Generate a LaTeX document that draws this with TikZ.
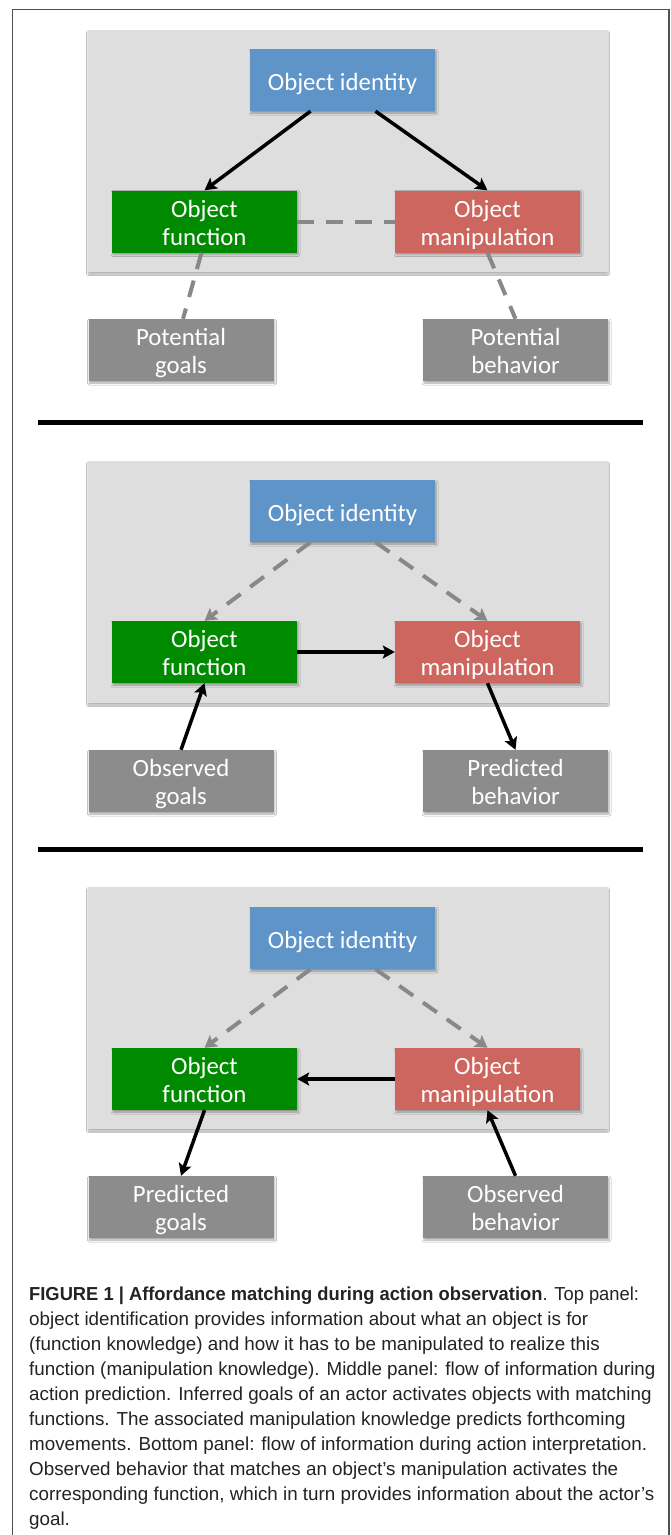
\documentclass[tikz,border=0pt]{standalone}
\usepackage{fontspec}
\setmainfont{Liberation Sans}
\newfontfamily\boxfont{Carlito}
\usetikzlibrary{arrows.meta,shadows.blur}
\definecolor{cblue}{RGB}{95,148,201}
\definecolor{cgreen}{RGB}{0,138,0}
\definecolor{cred}{RGB}{205,102,94}
\definecolor{cgraybox}{RGB}{140,140,140}
\definecolor{cpanel}{RGB}{222,222,222}
\definecolor{cdash}{RGB}{136,136,136}
\definecolor{cframe}{RGB}{80,80,80}
\definecolor{ctext}{RGB}{35,35,35}
% one-line and two-line box labels with fixed baseline placement
\newcommand\oneln[1]{\raisebox{0pt}[21.4pt][0pt]{#1}}
\newcommand\twoln[2]{\raisebox{0pt}[47pt][0pt]{\begin{tabular}[b]{@{}c@{}}#1\\#2\end{tabular}}}
\tikzset{
  box/.style={rectangle, inner sep=0pt, minimum width=185pt, minimum height=62pt,
    align=center, text=white, font=\boxfont\fontsize{24.8}{28}\selectfont,
    blur shadow={shadow xshift=1pt, shadow yshift=-2pt, shadow blur radius=2pt, shadow opacity=35}},
  idbox/.style={box, fill=cblue},
  fnbox/.style={box, fill=cgreen},
  mpbox/.style={box, fill=cred},
  gbox/.style={box, fill=cgraybox},
  panelbg/.style={rectangle, inner sep=0pt, fill=cpanel, minimum width=520pt, minimum height=242pt,
    blur shadow={shadow xshift=0pt, shadow yshift=-2pt, shadow blur radius=1.5pt, shadow opacity=30}},
  solidarrow/.style={draw=black, line width=3.5pt, -{Stealth[length=12pt,width=13pt,inset=2.5pt]}},
  dasharrow/.style={draw=cdash, line width=4pt, dash pattern=on 17pt off 12pt, -{Stealth[length=12pt,width=14pt,inset=2.5pt]}},
  dashline/.style={draw=cdash, line width=4pt, dash pattern=on 17pt off 12pt},
  capline/.style={anchor=base west, inner sep=0pt, text=ctext, font=\fontsize{18.8}{25.1}\selectfont},
}
\begin{document}
\begin{tikzpicture}[x=1pt,y=-1pt]
\useasboundingbox (0,0) rectangle (671,1535);
\fill[white] (0,0) rectangle (671,1535);
% frame
\draw[cframe, line width=1.5pt] (12.5,1535) -- (12.5,9.5) -- (669,9.5) -- (669,1535);

% ---------- top panel ----------
\node[panelbg] (bg1) at (348,151) {};
\node[idbox] (id1) at (342.5,80) {\oneln{Object identity}};
\node[fnbox] (fn1) at (204.5,221.5) {\twoln{Object}{function}};
\node[mpbox] (mp1) at (487.5,221.5) {\twoln{Object}{manipulation}};
\node[gbox] (gl1) at (181,350) {\twoln{Potential}{goals}};
\node[gbox] (gr1) at (515.5,350) {\twoln{Potential}{behavior}};
\draw[solidarrow] ([xshift=-32pt]id1.south) -- (fn1.north);
\draw[solidarrow] ([xshift=33pt]id1.south) -- (mp1.north);
\draw[dashline] (fn1.east) -- (mp1.west);
\draw[dashline] ([xshift=-3pt]fn1.south) -- ([xshift=2pt]gl1.north);
\draw[dashline] (mp1.south) -- (gr1.north);

\draw[black, line width=5pt] (38,422) -- (643,422);

% ---------- middle panel ----------
\node[panelbg] (bg2) at (348,582) {};
\node[idbox] (id2) at (342.5,511) {\oneln{Object identity}};
\node[fnbox] (fn2) at (204.5,652) {\twoln{Object}{function}};
\node[mpbox] (mp2) at (487.5,652) {\twoln{Object}{manipulation}};
\node[gbox] (gl2) at (181,781) {\twoln{Observed}{goals}};
\node[gbox] (gr2) at (515.5,781) {\twoln{Predicted}{behavior}};
\draw[dasharrow] ([xshift=-32pt]id2.south) -- (fn2.north);
\draw[dasharrow] ([xshift=33pt]id2.south) -- (mp2.north);
\draw[solidarrow] (fn2.east) -- (mp2.west);
\draw[solidarrow] (gl2.north) -- (fn2.south);
\draw[solidarrow] (mp2.south) -- (gr2.north);

\draw[black, line width=5pt] (38,849) -- (643,849);

% ---------- bottom panel ----------
\node[panelbg] (bg3) at (348,1008) {};
\node[idbox] (id3) at (342.5,938) {\oneln{Object identity}};
\node[fnbox] (fn3) at (204.5,1079) {\twoln{Object}{function}};
\node[mpbox] (mp3) at (487.5,1079) {\twoln{Object}{manipulation}};
\node[gbox] (gl3) at (181,1207) {\twoln{Predicted}{goals}};
\node[gbox] (gr3) at (515.5,1207) {\twoln{Observed}{behavior}};
\draw[dasharrow] ([xshift=-32pt]id3.south) -- (fn3.north);
\draw[dasharrow] ([xshift=33pt]id3.south) -- (mp3.north);
\draw[solidarrow] (mp3.west) -- (fn3.east);
\draw[solidarrow] (fn3.south) -- (gl3.north);
\draw[solidarrow] (gr3.north) -- (mp3.south);

% ---------- caption ----------
\node[capline] (c1) at (29,1300) {\scalebox{0.975}[1]{\textbf{FIGURE 1 | Affordance matching during action observation}. Top panel:}};
\node[capline] (c2) at (29,1325.1) {object identification provides information about what an object is for};
\node[capline] (c3) at (29,1350.2) {(function knowledge) and how it has to be manipulated to realize this};
\node[capline] (c4) at (29,1375.3) {function (manipulation knowledge). Middle panel: flow of information during};
\node[capline] (c5) at (29,1400.4) {action prediction. Inferred goals of an actor activates objects with matching};
\node[capline] (c6) at (29,1425.5) {functions. The associated manipulation knowledge predicts forthcoming};
\node[capline] (c7) at (29,1450.6) {movements. Bottom panel: flow of information during action interpretation.};
\node[capline] (c8) at (29,1475.7) {Observed behavior that matches an object’s manipulation activates the};
\node[capline] (c9) at (29,1500.8) {corresponding function, which in turn provides information about the actor’s};
\node[capline] (c10) at (29,1525.9) {goal.};
\end{tikzpicture}
\end{document}
